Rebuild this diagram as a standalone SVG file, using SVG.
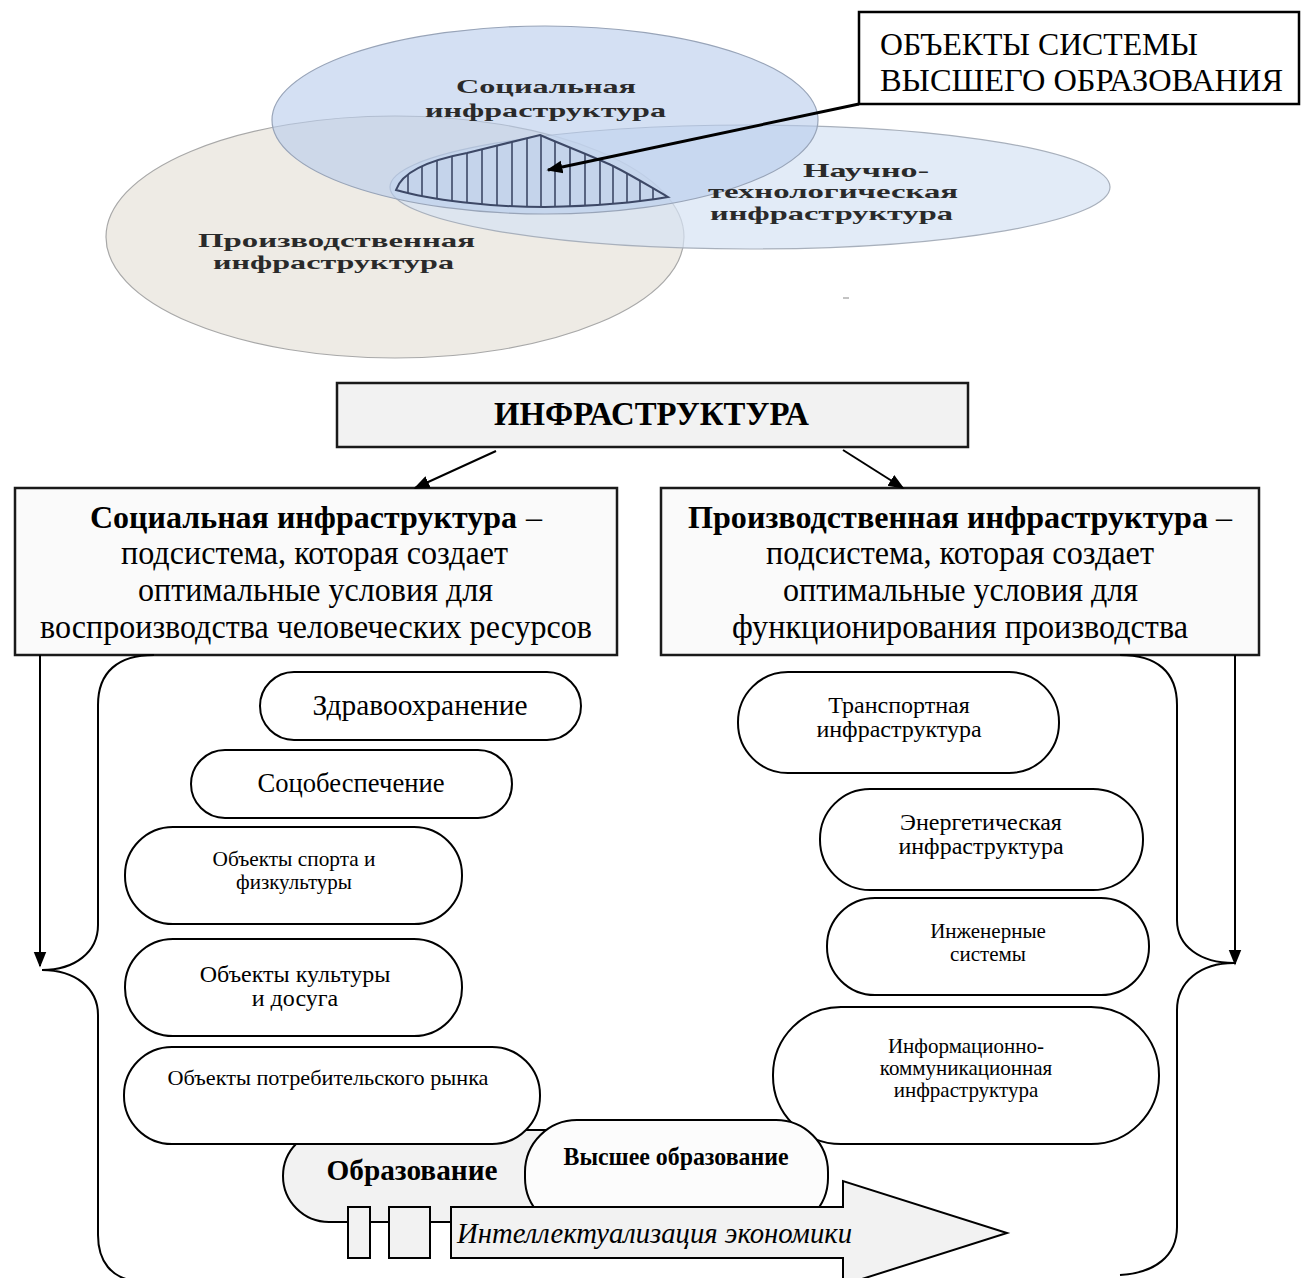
<svg xmlns="http://www.w3.org/2000/svg" width="1306" height="1278" viewBox="0 0 1306 1278">
<defs>
<style>
.venn{font-family:"Liberation Serif","Times New Roman",serif;font-weight:bold;font-size:19px;fill:#2a2a2a}
.t{font-family:"Liberation Serif","Times New Roman",serif;fill:#000}
.box{stroke:#1a1a1a;stroke-width:2.5}
.pill{fill:#fff;stroke:#000;stroke-width:2}
.ln{fill:none;stroke:#000;stroke-width:2}
.hatch{stroke:#3d4866;stroke-width:1.6}
</style>
<marker id="ah2" viewBox="0 0 10 10" refX="9" refY="5" markerWidth="16" markerHeight="16" markerUnits="userSpaceOnUse" orient="auto"><path d="M0,1 L10,5 L0,9 Z" fill="#000"/></marker>
<clipPath id="hclip"><path d="M396,190 C402,172 430,160 467,153 C495,146 520,140 540,135 C565,146 590,155 613,166 C635,177 652,188 668,197 C640,202 600,206 545,207 C490,207 430,200 396,190 Z"/></clipPath>
</defs>

<g id="venn">
<ellipse id="e-prod" cx="395" cy="237" rx="289" ry="121" fill="#ebe8e0" fill-opacity="0.85" stroke="#a8a8a8" stroke-width="1.2"/>
<ellipse id="e-sci" cx="750" cy="187" rx="360" ry="62" fill="#d6e3f3" fill-opacity="0.7" stroke="#a8b0bc" stroke-width="1.2"/>
<ellipse id="e-soc" cx="545" cy="120" rx="273" ry="94" fill="#b7cbeb" fill-opacity="0.6" stroke="#98a4b8" stroke-width="1.2"/>
<g id="hatched">
<path d="M396,190 C402,172 430,160 467,153 C495,146 520,140 540,135 C565,146 590,155 613,166 C635,177 652,188 668,197 C640,202 600,206 545,207 C490,207 430,200 396,190 Z" fill="#c4d2ea" fill-opacity="0.6" stroke="#3d4866" stroke-width="2"/>
<g clip-path="url(#hclip)" class="hatch">
<line x1="408" y1="130" x2="408" y2="210"/><line x1="422" y1="130" x2="422" y2="210"/><line x1="437" y1="130" x2="437" y2="210"/><line x1="452" y1="130" x2="452" y2="210"/><line x1="467" y1="130" x2="467" y2="210"/><line x1="482" y1="130" x2="482" y2="210"/><line x1="497" y1="130" x2="497" y2="210"/><line x1="512" y1="130" x2="512" y2="210"/><line x1="527" y1="130" x2="527" y2="210"/><line x1="541" y1="130" x2="541" y2="210"/><line x1="555" y1="130" x2="555" y2="210"/><line x1="570" y1="130" x2="570" y2="210"/><line x1="585" y1="130" x2="585" y2="210"/><line x1="600" y1="130" x2="600" y2="210"/><line x1="613" y1="130" x2="613" y2="210"/><line x1="627" y1="130" x2="627" y2="210"/><line x1="640" y1="130" x2="640" y2="210"/><line x1="653" y1="130" x2="653" y2="210"/>
</g>
</g>
<text class="venn" x="456" y="93" textLength="180" lengthAdjust="spacingAndGlyphs">Социальная</text>
<text class="venn" x="425" y="117" textLength="241" lengthAdjust="spacingAndGlyphs">инфраструктура</text>
<text class="venn" x="803" y="177" textLength="126" lengthAdjust="spacingAndGlyphs">Научно-</text>
<text class="venn" x="708" y="198" textLength="250" lengthAdjust="spacingAndGlyphs">технологическая</text>
<text class="venn" x="710" y="220" textLength="243" lengthAdjust="spacingAndGlyphs">инфраструктура</text>
<text class="venn" x="198" y="247" textLength="277" lengthAdjust="spacingAndGlyphs">Производственная</text>
<text class="venn" x="213" y="269" textLength="241" lengthAdjust="spacingAndGlyphs">инфраструктура</text>
<line x1="843" y1="298" x2="849" y2="298" stroke="#888" stroke-width="1"/>
</g>

<g id="callout">
<rect x="859" y="12" width="440" height="92" fill="#fff" stroke="#000" stroke-width="2.5"/>
<text class="t" x="880" y="55" font-size="32" textLength="318" lengthAdjust="spacingAndGlyphs">ОБЪЕКТЫ СИСТЕМЫ</text>
<text class="t" x="880" y="91" font-size="32" textLength="403" lengthAdjust="spacingAndGlyphs">ВЫСШЕГО ОБРАЗОВАНИЯ</text>
</g>

<g id="infra">
<rect class="box" x="337" y="383" width="631" height="64" fill="#f2f2f2"/>
<text class="t" x="494" y="425" font-size="34" font-weight="bold" textLength="315" lengthAdjust="spacingAndGlyphs">ИНФРАСТРУКТУРА</text>
</g>

<g id="social-box">
<rect class="box" x="15" y="488" width="602" height="167" fill="#fafafa"/>
<text class="t" x="90" y="528" font-size="31" font-weight="bold" textLength="427" lengthAdjust="spacingAndGlyphs">Социальная инфраструктура</text>
<text class="t" x="526" y="528" font-size="32">–</text>
<text class="t" x="121" y="564" font-size="34" textLength="387" lengthAdjust="spacingAndGlyphs">подсистема, которая создает</text>
<text class="t" x="138" y="601" font-size="34" textLength="355" lengthAdjust="spacingAndGlyphs">оптимальные условия для</text>
<text class="t" x="40" y="638" font-size="34" textLength="552" lengthAdjust="spacingAndGlyphs">воспроизводства человеческих ресурсов</text>
</g>

<g id="prod-box">
<rect class="box" x="661" y="488" width="598" height="167" fill="#fafafa"/>
<text class="t" x="688" y="528" font-size="31" font-weight="bold" textLength="520" lengthAdjust="spacingAndGlyphs">Производственная инфраструктура</text>
<text class="t" x="1216" y="528" font-size="32">–</text>
<text class="t" x="766" y="564" font-size="34" textLength="388" lengthAdjust="spacingAndGlyphs">подсистема, которая создает</text>
<text class="t" x="783" y="601" font-size="34" textLength="355" lengthAdjust="spacingAndGlyphs">оптимальные условия для</text>
<text class="t" x="732" y="638" font-size="34" textLength="456" lengthAdjust="spacingAndGlyphs">функционирования производства</text>
</g>

<g id="connectors">
<line x1="859" y1="104" x2="548" y2="170" stroke="#000" stroke-width="3" marker-end="url(#ah2)"/>
<line class="ln" x1="496" y1="451" x2="415" y2="488" marker-end="url(#ah2)"/>
<line class="ln" x1="843" y1="450" x2="903" y2="488" marker-end="url(#ah2)"/>
<line class="ln" x1="40" y1="655" x2="40" y2="966" marker-end="url(#ah2)"/>
<line class="ln" x1="1235" y1="655" x2="1235" y2="964" marker-end="url(#ah2)"/>
<path class="ln" d="M154,655 C118,655 98,672 98,705 L98,925 C98,952 75,970 42,970 C75,970 98,988 98,1015 L98,1235 C98,1262 112,1278 135,1281"/>
<path class="ln" d="M1120,655 C1157,655 1177,672 1177,705 L1177,920 C1177,946 1200,963 1234,963 C1200,963 1177,982 1177,1010 L1177,1227 C1177,1256 1155,1273 1120,1275"/>
</g>

<g id="n-zdrav"><rect class="pill" x="260" y="672" width="321" height="68" rx="34"/><text class="t" x="420" y="715" font-size="30" text-anchor="middle" textLength="215" lengthAdjust="spacingAndGlyphs">Здравоохранение</text></g>
<g id="n-soc"><rect class="pill" x="191" y="750" width="321" height="68" rx="34"/><text class="t" x="351" y="792" font-size="28" text-anchor="middle" textLength="187" lengthAdjust="spacingAndGlyphs">Соцобеспечение</text></g>
<g id="n-sport"><rect class="pill" x="125" y="827" width="337" height="97" rx="48"/><text class="t" x="294" y="866" font-size="21" text-anchor="middle" textLength="163" lengthAdjust="spacingAndGlyphs">Объекты спорта и</text><text class="t" x="294" y="889" font-size="21" text-anchor="middle">физкультуры</text></g>
<g id="n-cult"><rect class="pill" x="125" y="939" width="337" height="97" rx="48"/><text class="t" x="295" y="982" font-size="24" text-anchor="middle">Объекты культуры</text><text class="t" x="295" y="1006" font-size="24" text-anchor="middle">и досуга</text></g>

<g id="n-trans"><rect class="pill" x="738" y="672" width="321" height="101" rx="50"/><text class="t" x="899" y="713" font-size="24" text-anchor="middle">Транспортная</text><text class="t" x="899" y="737" font-size="24" text-anchor="middle">инфраструктура</text></g>
<g id="n-energ"><rect class="pill" x="820" y="789" width="323" height="101" rx="50"/><text class="t" x="981" y="830" font-size="24" text-anchor="middle">Энергетическая</text><text class="t" x="981" y="854" font-size="24" text-anchor="middle">инфраструктура</text></g>
<g id="n-eng"><rect class="pill" x="827" y="898" width="322" height="97" rx="48"/><text class="t" x="988" y="938" font-size="21" text-anchor="middle">Инженерные</text><text class="t" x="988" y="961" font-size="21" text-anchor="middle">системы</text></g>

<g id="n-obraz"><rect x="283" y="1130" width="420" height="92" rx="46" fill="#f2f2f2" stroke="#000" stroke-width="2"/><text class="t" x="412" y="1180" font-size="30" font-weight="bold" text-anchor="middle" textLength="171" lengthAdjust="spacingAndGlyphs">Образование</text></g>
<g id="n-potreb"><rect class="pill" x="124" y="1047" width="416" height="97" rx="48"/><text class="t" x="328" y="1085" font-size="22" text-anchor="middle" textLength="321" lengthAdjust="spacingAndGlyphs">Объекты потребительского рынка</text></g>
<g id="n-info"><rect class="pill" x="773" y="1007" width="386" height="137" rx="68"/><text class="t" x="966" y="1053" font-size="21" text-anchor="middle">Информационно-</text><text class="t" x="966" y="1075" font-size="21" text-anchor="middle">коммуникационная</text><text class="t" x="966" y="1097" font-size="21" text-anchor="middle">инфраструктура</text></g>
<g id="n-vyssh"><rect x="525" y="1120" width="303" height="110" rx="52" fill="#fcfcfc" stroke="#000" stroke-width="2"/><text class="t" x="676" y="1165" font-size="26" font-weight="bold" text-anchor="middle" textLength="225" lengthAdjust="spacingAndGlyphs">Высшее образование</text></g>

<g id="n-arrow">
<rect x="348" y="1207" width="22" height="51" fill="#f2f2f2" stroke="#000" stroke-width="2"/>
<rect x="389" y="1207" width="41" height="51" fill="#f2f2f2" stroke="#000" stroke-width="2"/>
<path d="M451,1207 L843,1207 L843,1181 L1007,1233 L843,1285 L843,1258 L451,1258 Z" fill="#f2f2f2" stroke="#000" stroke-width="2"/>
<text class="t" x="457" y="1243" font-size="29" font-style="italic" textLength="395" lengthAdjust="spacingAndGlyphs">Интеллектуализация экономики</text>
</g>
</svg>
